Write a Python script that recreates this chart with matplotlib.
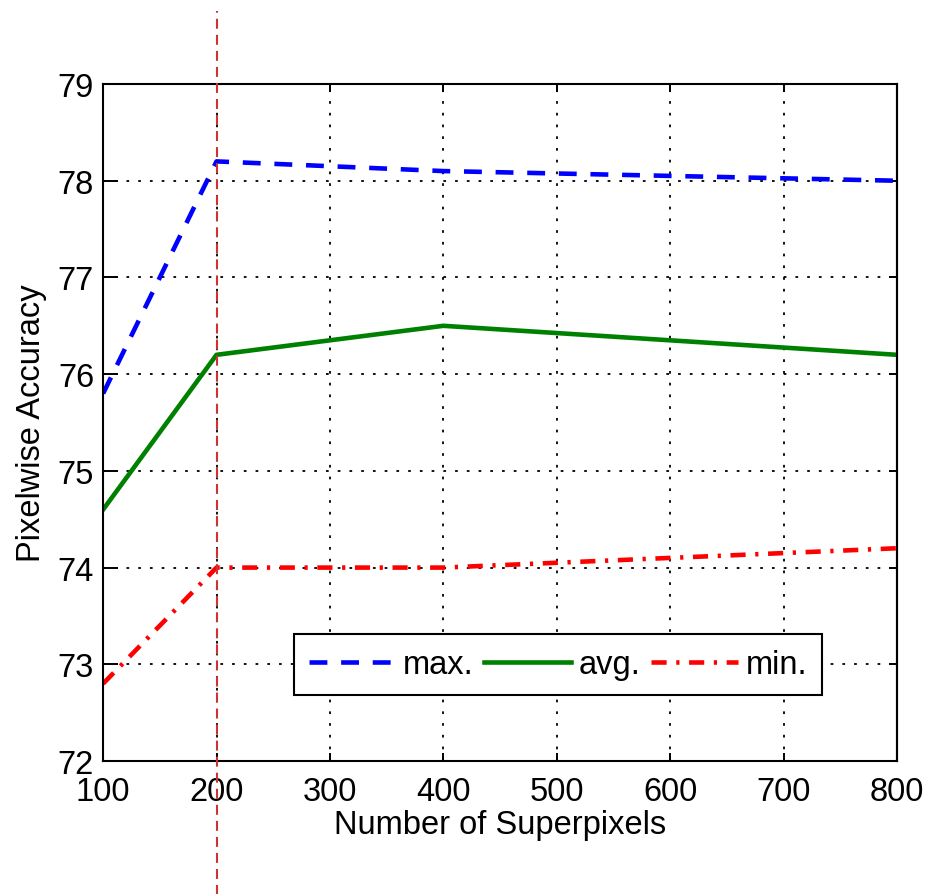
import matplotlib
matplotlib.use("Agg")
import matplotlib.pyplot as plt

plt.rcParams["font.family"] = ["Liberation Sans", "DejaVu Sans"]

# number of superpixels vs pixelwise accuracy
superpixels = [100, 200, 400, 800]
acc_max = [75.8, 78.2, 78.1, 78.0]
acc_avg = [74.6, 76.2, 76.5, 76.2]
acc_min = [72.8, 74.0, 74.0, 74.2]
chosen = 200

xticks = [100, 200, 300, 400, 500, 600, 700, 800]
yticks = [72, 73, 74, 75, 76, 77, 78, 79]

FS = 23.5

fig = plt.figure(figsize=(9.29, 8.95), dpi=100)
ax = fig.add_axes([0.111, 0.1486, 0.8545, 0.7564])

lw = 3.3
ax.plot(superpixels, acc_max, color="#0000ff", ls=(0, (3.9, 3.0)), lw=lw, label="max.")
ax.plot(superpixels, acc_avg, color="#008000", ls="-", lw=lw, label="avg.")
ax.plot(superpixels, acc_min, color="#ff0000", ls=(0, (3.3, 2.1, 0.7, 2.1)), lw=lw,
        label="min.")

ax.axvline(chosen, ymin=-0.2, ymax=1.108, color="#cc3333", ls=(0, (4.8, 2.9)), lw=1.5,
           clip_on=False, zorder=5)

ax.set_xlim(100, 800)
ax.set_ylim(72, 79)
ax.set_xticks(xticks)
ax.set_yticks(yticks)
ax.tick_params(axis="x", direction="in", length=6, width=1.4, labelsize=FS,
               top=True, pad=10.5)
ax.tick_params(axis="y", direction="in", length=11, width=1.4, labelsize=FS,
               right=False, pad=6.5)
# shorter ticks on the right side
ry = ax.secondary_yaxis("right")
ry.set_yticks(yticks)
ry.tick_params(direction="in", length=6, width=1.4, labelright=False)

ax.grid(True, color="black", ls=(0, (1.5, 5)), lw=1.3)
for s in list(ax.spines.values()) + [ry.spines["right"]]:
    s.set_linewidth(1.5)

ax.set_xlabel("Number of Superpixels", fontsize=FS, labelpad=2)
ax.set_ylabel("Pixelwise Accuracy", fontsize=FS, labelpad=8)

leg = ax.legend(loc="center", bbox_to_anchor=(0.573, 0.1425), ncol=3, fontsize=FS,
                handlelength=2.64, handletextpad=0.25, columnspacing=0.33,
                borderpad=0.45, fancybox=False, edgecolor="black", framealpha=1)
leg.get_frame().set_linewidth(1.5)

fig.savefig("out.png", dpi=100)
